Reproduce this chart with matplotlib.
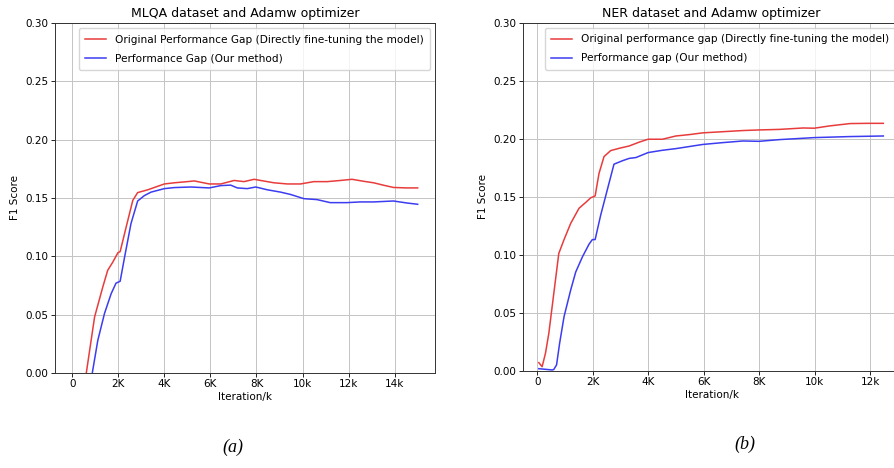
import matplotlib
matplotlib.use("Agg")
import matplotlib.pyplot as plt

# (a) MLQA, x in thousands of iterations
mlqa_x_orig = [0.0, 0.61, 0.97, 1.33, 1.54, 1.76, 1.98, 2.08, 2.34, 2.63, 2.84, 3.28, 3.71, 4.0, 4.43,
               5.0, 5.3, 5.95, 6.45, 7.03, 7.46, 7.9, 8.18, 8.76, 9.34, 9.91, 10.49, 11.07, 11.65,
               12.15, 12.65, 13.09, 13.5, 13.95, 14.53, 15.0]
mlqa_orig = [-0.08, 0.0, 0.048, 0.074, 0.088, 0.095, 0.103, 0.104, 0.125, 0.148, 0.1546, 0.157, 0.160,
             0.162, 0.163, 0.164, 0.1646, 0.162, 0.162, 0.165, 0.164, 0.166, 0.165, 0.163, 0.162,
             0.162, 0.164, 0.164, 0.165, 0.166, 0.1643, 0.163, 0.161, 0.159, 0.1586, 0.1586]
mlqa_x_ours = [0.0, 0.87, 1.11, 1.4, 1.69, 1.9, 2.08, 2.27, 2.55, 2.84, 3.13, 3.42, 4.0, 4.43, 5.15,
               5.95, 6.45, 6.88, 7.17, 7.6, 7.97, 8.47, 9.05, 9.48, 10.06, 10.63, 11.2, 11.93, 12.5,
               13.09, 13.95, 14.53, 15.0]
mlqa_ours = [-0.09, 0.0, 0.028, 0.051, 0.068, 0.077, 0.0786, 0.099, 0.128, 0.1474, 0.152, 0.155,
             0.158, 0.1589, 0.1594, 0.1586, 0.1606, 0.161, 0.1586, 0.158, 0.1594, 0.157, 0.155,
             0.153, 0.1494, 0.1486, 0.146, 0.146, 0.1466, 0.1466, 0.1474, 0.1457, 0.1446]

# (b) NER
ner_x_orig = [0.06, 0.18, 0.3, 0.42, 0.54, 0.66, 0.78, 0.97, 1.21, 1.51, 1.75, 1.93, 2.09, 2.23, 2.41,
              2.65, 2.96, 3.32, 3.68, 4.0, 4.52, 5.0, 5.49, 5.97, 6.7, 7.42, 8.0, 8.75, 9.59, 9.99,
              10.55, 11.28, 11.88, 12.48]
ner_orig = [0.0069, 0.0034, 0.015, 0.032, 0.055, 0.078, 0.101, 0.113, 0.127, 0.140, 0.145, 0.149,
            0.1506, 0.170, 0.1845, 0.1897, 0.1917, 0.1937, 0.197, 0.1995, 0.1995, 0.2023, 0.2035,
            0.205, 0.206, 0.207, 0.2075, 0.208, 0.2092, 0.209, 0.211, 0.213, 0.2132, 0.2132]
ner_x_ours = [0.06, 0.54, 0.6, 0.7, 0.81, 0.97, 1.21, 1.39, 1.63, 1.87, 1.99, 2.09, 2.29, 2.53, 2.77,
              3.08, 3.32, 3.56, 4.0, 4.52, 5.0, 5.97, 6.7, 7.42, 8.0, 8.75, 9.99, 11.28, 12.48]
ner_ours = [0.0017, 0.0006, 0.001, 0.005, 0.0236, 0.0466, 0.0696, 0.085, 0.098, 0.109, 0.113, 0.113,
            0.134, 0.156, 0.178, 0.181, 0.183, 0.1837, 0.188, 0.190, 0.1914, 0.195, 0.1966, 0.198,
            0.1977, 0.1992, 0.2009, 0.2018, 0.2023]

yticks = [0.0, 0.05, 0.10, 0.15, 0.20, 0.25, 0.30]
xticks_a = [0, 2, 4, 6, 8, 10, 12, 14]
xlabels_a = ['0', '2K', '4K', '6K', '8K', '10k', '12k', '14k']
xticks_b = [0, 2, 4, 6, 8, 10, 12]
xlabels_b = ['0', '2K', '4K', '6K', '8K', '10k', '12k']

RED = '#e83c3c'
BLUE = '#3c3cf0'

fig = plt.figure(figsize=(8.94, 4.68), dpi=100)
ax1 = fig.add_axes([0.0615, 0.203, 0.425, 0.748])
ax2 = fig.add_axes([0.5847, 0.208, 0.4226, 0.7436])


def style(ax, title, xticks, xlabels, xlim):
    ax.set_title(title, fontsize=9, pad=4)
    ax.set_ylim(0, 0.3)
    ax.set_xlim(*xlim)
    ax.set_yticks(yticks)
    ax.set_yticklabels([f"{v:.2f}" for v in yticks])
    ax.set_xticks(xticks)
    ax.set_xticklabels(xlabels)
    ax.tick_params(labelsize=7.5, length=2.6, width=0.6, pad=2)
    ax.grid(True, color='#c4c4c4', linewidth=0.7)
    ax.set_xlabel('Iteration/k', fontsize=7.5, labelpad=2)
    ax.set_ylabel('F1 Score', fontsize=7.5, labelpad=4)
    for s in ax.spines.values():
        s.set_linewidth(0.7)
        s.set_color('#333333')


ax1.plot(mlqa_x_orig, mlqa_orig, color=RED, lw=1.1,
         label='Original Performance Gap (Directly fine-tuning the model)')
ax1.plot(mlqa_x_ours, mlqa_ours, color=BLUE, lw=1.1, label='Performance Gap (Our method)')
style(ax1, 'MLQA dataset and Adamw optimizer', xticks_a, xlabels_a, (-0.75, 15.75))
ax1.legend(loc='upper right', fontsize=7.6, frameon=True, borderaxespad=0.5, handlelength=2,
           labelspacing=0.85, borderpad=0.6)

ax2.plot(ner_x_orig, ner_orig, color=RED, lw=1.1,
         label='Original performance gap (Directly fine-tuning the model)')
ax2.plot(ner_x_ours, ner_ours, color=BLUE, lw=1.1, label='Performance gap (Our method)')
style(ax2, 'NER dataset and Adamw optimizer', xticks_b, xlabels_b, (-0.52, 13.1))
ax2.legend(loc='upper right', fontsize=7.6, frameon=True, borderaxespad=0.5, handlelength=2,
           labelspacing=0.85, borderpad=0.6)

fig.text(0.261, 0.035, '(a)', fontsize=13, style='italic', family='Liberation Serif', ha='center')
fig.text(0.833, 0.04, '(b)', fontsize=13, style='italic', family='Liberation Serif', ha='center')

fig.savefig('out.png', dpi=100)
